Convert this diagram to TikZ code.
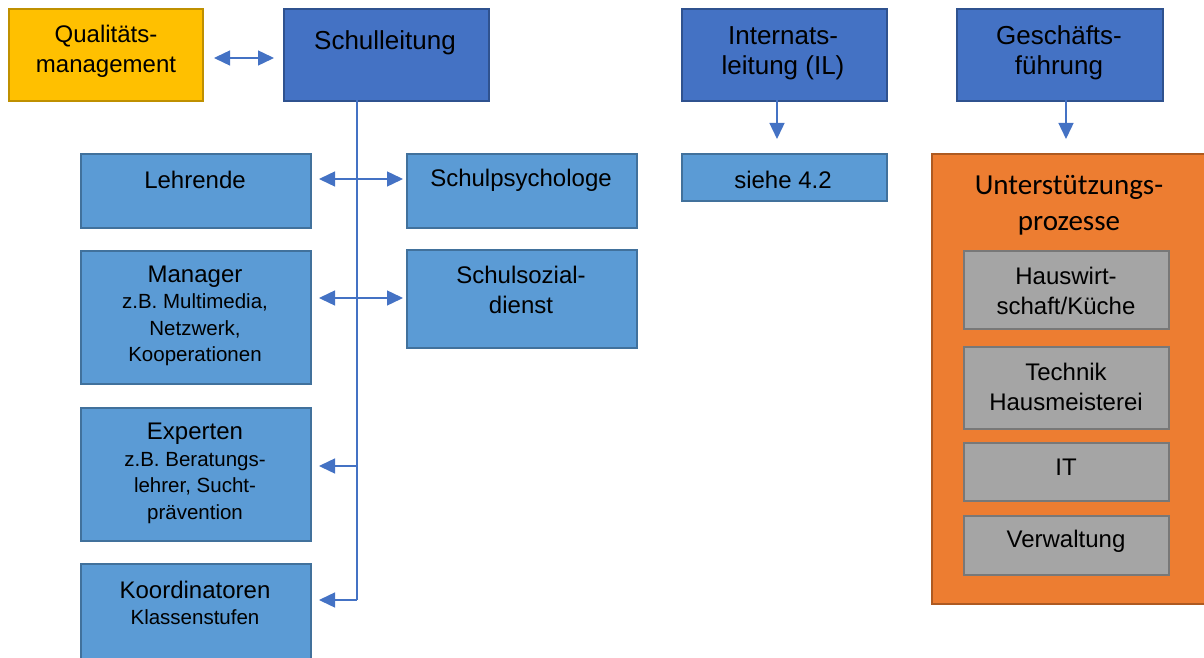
\documentclass[tikz,border=0pt]{standalone}
\usepackage{fontspec}
\setmainfont{Liberation Sans}
\newfontfamily\calib{Carlito}
\usetikzlibrary{arrows.meta}
\definecolor{dblue}{HTML}{4472C4}
\definecolor{dblueb}{HTML}{2F528F}
\definecolor{lblue}{HTML}{5B9BD5}
\definecolor{lblueb}{HTML}{41719C}
\definecolor{gold}{HTML}{FFC000}
\definecolor{goldb}{HTML}{BF9000}
\definecolor{orng}{HTML}{ED7D31}
\definecolor{orngb}{HTML}{AE5A21}
\definecolor{gry}{HTML}{A5A5A5}
\definecolor{gryb}{HTML}{787878}
\tikzset{
  box/.style={draw, line width=2pt, anchor=north west, inner sep=0pt},
  topbox/.style={box, fill=dblue, draw=dblueb},
  subbox/.style={box, fill=lblue, draw=lblueb},
  graybox/.style={box, fill=gry, draw=gryb},
  big/.style={font=\fontsize{24}{30}\selectfont, align=center, inner sep=0pt},
  bigger/.style={font=\fontsize{26}{30}\selectfont, align=center, inner sep=0pt},
  small/.style={font=\fontsize{20.5}{26.5}\selectfont, align=center, inner sep=0pt},
  conn/.style={draw=dblue, line width=1.4pt},
  arr/.style={conn, -{Triangle[length=16pt,width=15pt]}},
  darr/.style={conn, {Triangle[length=16pt,width=15pt]}-{Triangle[length=16pt,width=15pt]}},
}
\begin{document}
\begin{tikzpicture}[x=1pt,y=-1pt]
\useasboundingbox (0,0) rectangle (1204,658);
\clip (0,0) rectangle (1204,658);
% top row
\node[box, fill=gold, draw=goldb, minimum width=194, minimum height=92] (qm) at (8,8) {};
\node[topbox, minimum width=205, minimum height=92] (sl) at (283,8) {};
\node[topbox, minimum width=205, minimum height=92] (il) at (681,8) {};
\node[topbox, minimum width=206, minimum height=92] (gf) at (956,8) {};
\node[big] (qmt) at (106,51) {Qualitäts-\\management};
\node[bigger] (slt) at (385,43) {Schulleitung};
\node[bigger] (ilt) at (783,53) {Internats-\\leitung (IL)};
\node[bigger] (gft) at (1059,53) {Geschäfts-\\führung};
% left column
\node[subbox, minimum width=230, minimum height=74] (leh) at (80,153) {};
\node[subbox, minimum width=230, minimum height=133] (man) at (80,250) {};
\node[subbox, minimum width=230, minimum height=133] (exp) at (80,407) {};
\node[subbox, minimum width=230, minimum height=100] (koo) at (80,563) {};
\node[subbox, minimum width=230, minimum height=74] (psy) at (406,153) {};
\node[subbox, minimum width=230, minimum height=98] (soz) at (406,249) {};
\node[big] (leht) at (195,180) {Lehrende};
\node[big] (psyt) at (521,180) {Schulpsychologe};
\node[big] (mant) at (195,277) {Manager};
\node[small] (mans) at (195,330) {z.B. Multimedia,\\Netzwerk,\\Kooperationen};
\node[big] (sozt) at (521,290) {Schulsozial-\\dienst};
\node[big] (expt) at (195,434) {Experten};
\node[small] (exps) at (195,488) {z.B. Beratungs-\\lehrer, Sucht-\\prävention};
\node[big] (koot) at (195,590) {Koordinatoren};
\node[small] (koos) at (195,617) {Klassenstufen};
% internat
\node[subbox, minimum width=205, minimum height=47] (s42) at (681,153) {};
\node[big] (s42t) at (783,180) {siehe 4.2};
% support processes
\node[box, fill=orng, draw=orngb, minimum width=280, minimum height=450] (up) at (931,153) {};
\node[font=\calib\fontsize{29}{36}\selectfont, align=center, inner sep=0pt] (upt) at (1069,205) {Unterstützungs-\\prozesse};
\node[graybox, minimum width=205, minimum height=78] (hw) at (963,250) {};
\node[graybox, minimum width=205, minimum height=82] (tec) at (963,346) {};
\node[graybox, minimum width=205, minimum height=58] (it) at (963,442) {};
\node[graybox, minimum width=205, minimum height=59] (vw) at (963,515) {};
\node[big] (hwt) at (1066,291) {Hauswirt-\\schaft/Küche};
\node[big] (tect) at (1066,387) {Technik\\Hausmeisterei};
\node[big] (itt) at (1066,467) {IT};
\node[big] (vwt) at (1066,541) {Verwaltung};
% connectors
\coordinate (sp0) at (357,100);
\coordinate (sp1) at (357,600);
\draw[conn] (sp0) -- (sp1);
\coordinate (a1l) at (319,179); \coordinate (a1r) at (403,179);
\coordinate (a2l) at (319,298); \coordinate (a2r) at (403,298);
\coordinate (a3) at (357,466); \coordinate (a3l) at (319,466);
\coordinate (a4l) at (319,600);
\draw[darr] (a1l) -- (a1r);
\draw[darr] (a2l) -- (a2r);
\draw[arr] (a3) -- (a3l);
\draw[arr] (sp1) -- (a4l);
\coordinate (q1) at (214,58); \coordinate (q2) at (274,58);
\draw[darr] (q1) -- (q2);
\coordinate (ilb) at (777,100); \coordinate (ila) at (777,139);
\draw[arr] (ilb) -- (ila);
\coordinate (gfb) at (1066,100); \coordinate (gfa) at (1066,139);
\draw[arr] (gfb) -- (gfa);
\end{tikzpicture}
\end{document}
